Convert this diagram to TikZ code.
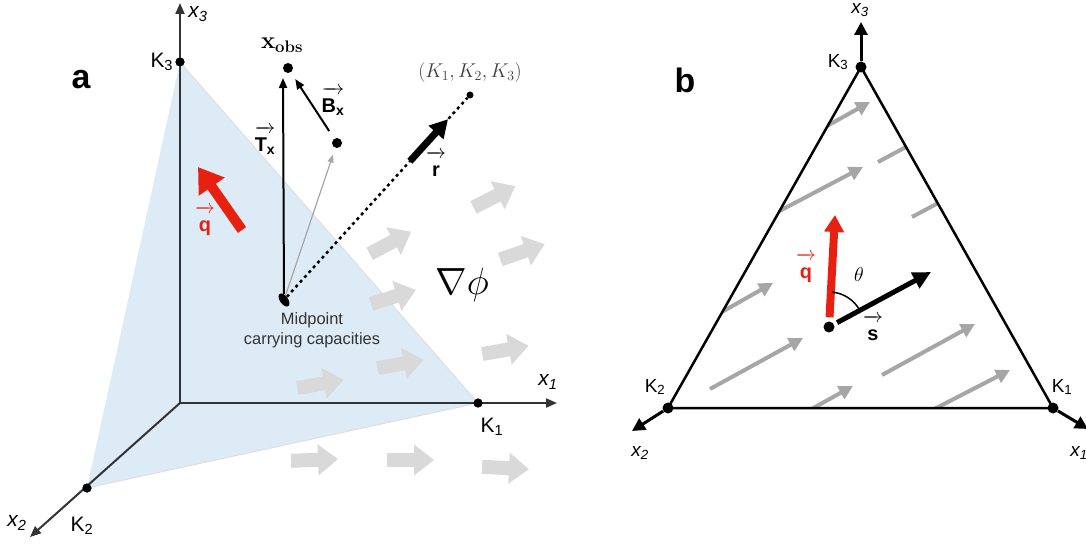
\RequirePackage{fix-cm}
\documentclass[tikz,border=0pt]{standalone}
\usepackage[no-math]{fontspec}
\setmainfont{Liberation Sans}
\usetikzlibrary{arrows.meta,positioning,shapes.geometric,calc}
\definecolor{simplexblue}{RGB}{221,235,247}
\definecolor{qred}{RGB}{232,32,16}
\newcommand\vlab[2]{$\overrightarrow{\mbox{\bfseries\rule{0pt}{0.95em}#1\textsubscript{#2}}}$}
\newcommand\vsym[1]{$\overrightarrow{\mbox{\bfseries\rule{0pt}{0.95em}#1}}$}

\begin{document}
\begin{tikzpicture}[x=1bp,y=-1bp,
  lab/.style={inner sep=1bp,font=\fontsize{21}{24}\selectfont},
  blab/.style={inner sep=1bp,font=\fontsize{19}{22}\selectfont},
  vlabel/.style={inner sep=0pt,font=\fontsize{20}{22}\selectfont},
  panel/.style={inner sep=0pt,font=\fontsize{34}{36}\selectfont\bfseries},
  dot/.style={circle,fill=black,inner sep=0pt,minimum size=9bp},
  bigdot/.style={dot,minimum size=11bp},
  axis/.style={draw=black!80,line width=2bp,-{Triangle[length=11bp,width=9bp]}},
  baxis/.style={draw=black,line width=3bp,-{Triangle[length=13bp,width=13bp]}},
  vec/.style={draw=black,line width=2bp,-{Triangle[length=10bp,width=8bp]}},
  faint/.style={draw=black!35,line width=1.2bp,-{Triangle[length=8bp,width=6bp]}},
  flow/.style={draw=gray!30,line width=14bp,-{Triangle[length=20bp,width=30bp]}},
  field/.style={draw=gray!70,line width=4bp,-{Triangle[length=14bp,width=14bp]}}]
\useasboundingbox (0,0) rectangle (1086,546);

% panel a
\coordinate (O) at (180,403);
\coordinate (x3end) at (180,3);
\coordinate (x1end) at (557,403);
\coordinate (x2end) at (30,537);
\node[dot] (K3) at (180,62) {};
\node[dot] (K1) at (478,403) {};
\node[dot] (K2) at (87,488) {};
\fill[simplexblue] (K3.center) -- (K1.center) -- (K2.center) -- cycle;
\draw[gray!25,line width=1bp] (K3.center) -- (K1.center) -- (K2.center);
\foreach \x/\y/\a in {494/197/27,390/243/28,522/252/19,393/297/17,505/350/10,
                      400/364/10,320/384/10,314/460/2,410/460/0,505/468/-3}
  \draw[flow] ([shift={(180+\a:23bp)}]\x,\y) -- ([shift={(\a:24bp)}]\x,\y);
\draw[axis] (O) -- (x3end);
\draw[axis] (O) -- (x1end);
\draw[axis] (O) -- (x2end);
\node[dot] at (K3) {};\node[dot] at (K1) {};\node[dot] at (K2) {};
\node[lab,left=1bp of K3] {K\textsubscript{3}};
\node[lab] at (492,427) {K\textsubscript{1}};
\node[lab] at (82,526) {K\textsubscript{2}};
\node[lab] at (198,14) {\textit{x\textsubscript{3}}};
\node[lab] at (548,382) {\textit{x\textsubscript{1}}};
\node[lab] at (17,523) {\textit{x\textsubscript{2}}};
\node[panel] at (81,80) {a};

\node[ellipse,fill=black,inner sep=0pt,minimum width=15bp,minimum height=8bp,rotate=-55] (mid) at (284,300) {};
\node[dot,minimum size=10bp] (xobs) at (288,68) {};
\node[dot,minimum size=10bp] (bdot) at (337,143) {};
\node[dot,minimum size=7bp] (kc) at (470,95) {};
\coordinate (ttip) at (283,78);
\draw[vec] (mid) -- (ttip);
\draw[vec,shorten <=9bp,shorten >=8bp] (bdot) -- (xobs);
\draw[faint,shorten >=7bp] (mid) -- (bdot);
\draw[line width=2.5bp,dash pattern=on 3bp off 3.5bp] (mid) -- (kc);
\draw[line width=7bp,-{Triangle[length=18bp,width=19bp]}]
  ($(mid)!0.677!(kc)$) -- ($(mid)!0.882!(kc)$);
\coordinate (qa) at (242,230);
\coordinate (qb) at (198,167);
\draw[qred,line width=10bp,-{Triangle[length=24bp,width=30bp]}] (qa) -- (qb);

\node[inner sep=0pt,font=\fontsize{24}{26}\selectfont] at (282,45) {$\mathbf{x}_{\mathbf{obs}}$};
\node[inner sep=0pt,text=black!75,font=\fontsize{20}{22}\selectfont] at (470,73) {$(K_1,K_2,K_3)$};
\node[vlabel] at (265,140) {\vlab{T}{x}};
\node[vlabel] at (333,101) {\vlab{B}{x}};
\node[vlabel] at (436,164) {\vsym{r}};
\node[vlabel,text=qred] at (205,221) {\vsym{q}};
\node[inner sep=0pt,font=\fontsize{38}{40}\selectfont] at (462,285) {$\nabla\phi$};
\node[align=center,text=black!80,font=\fontsize{16.5}{20}\selectfont] at (312,330) {Midpoint\\carrying capacities};

% panel b
\node[bigdot] (B3) at (861,67) {};
\node[bigdot] (B2) at (668,408) {};
\node[bigdot] (B1) at (1053,408) {};
\coordinate (b3end) at (861,22);
\coordinate (b2end) at (632,431);
\coordinate (b1end) at (1088,429);
\begin{scope}
\clip (B3.center) -- (B2.center) -- (B1.center) -- cycle;
\foreach \ax/\ay/\bx/\by in {710/389/803/338,882/375/975/324,790/421/853/386,
                             915/419/1010/370,690/330/773/283,800/141/870/102,
                             770/216/863/167,878/162/960/118,912/217/1000/170}
  \draw[field] (\ax,\ay) -- (\bx,\by);
\end{scope}
\draw[black,line width=2.5bp,line join=round] (B3.center) -- (B2.center) -- (B1.center) -- cycle;
\draw[baxis] (B3) -- (b3end);
\draw[baxis] (B2) -- (b2end);
\draw[baxis] (B1) -- (b1end);
\node[blab] at (838,62) {K\textsubscript{3}};
\node[blab] at (655,387) {K\textsubscript{2}};
\node[blab] at (1062,387) {K\textsubscript{1}};
\node[blab] at (860,10) {\textit{x\textsubscript{3}}};
\node[blab] at (640,453) {\textit{x\textsubscript{2}}};
\node[blab] at (1079,453) {\textit{x\textsubscript{1}}};
\node[panel] at (685,80) {b};

\node[bigdot] (ctr) at (829,327) {};
\coordinate (qtip) at (835,215);
\coordinate (stip) at (931,272);
\draw[qred,line width=8bp,shorten <=4bp,-{Triangle[length=17bp,width=19bp]}] (ctr) -- (qtip);
\draw[line width=5bp,shorten <=3.5bp,-{Triangle[length=18bp,width=17bp]}] (ctr) -- (stip);
\draw[line width=1.5bp] ([shift={(28.5:35bp)}]ctr.center) arc[start angle=28.5,end angle=85,radius=35bp];
\node[vlabel,text=qred] at (806,268) {\vsym{q}};
\node[vlabel] at (873,328) {\vsym{s}};
\node[inner sep=0pt,font=\fontsize{20}{22}\selectfont] at (859,275) {$\theta$};
\end{tikzpicture}
\end{document}
